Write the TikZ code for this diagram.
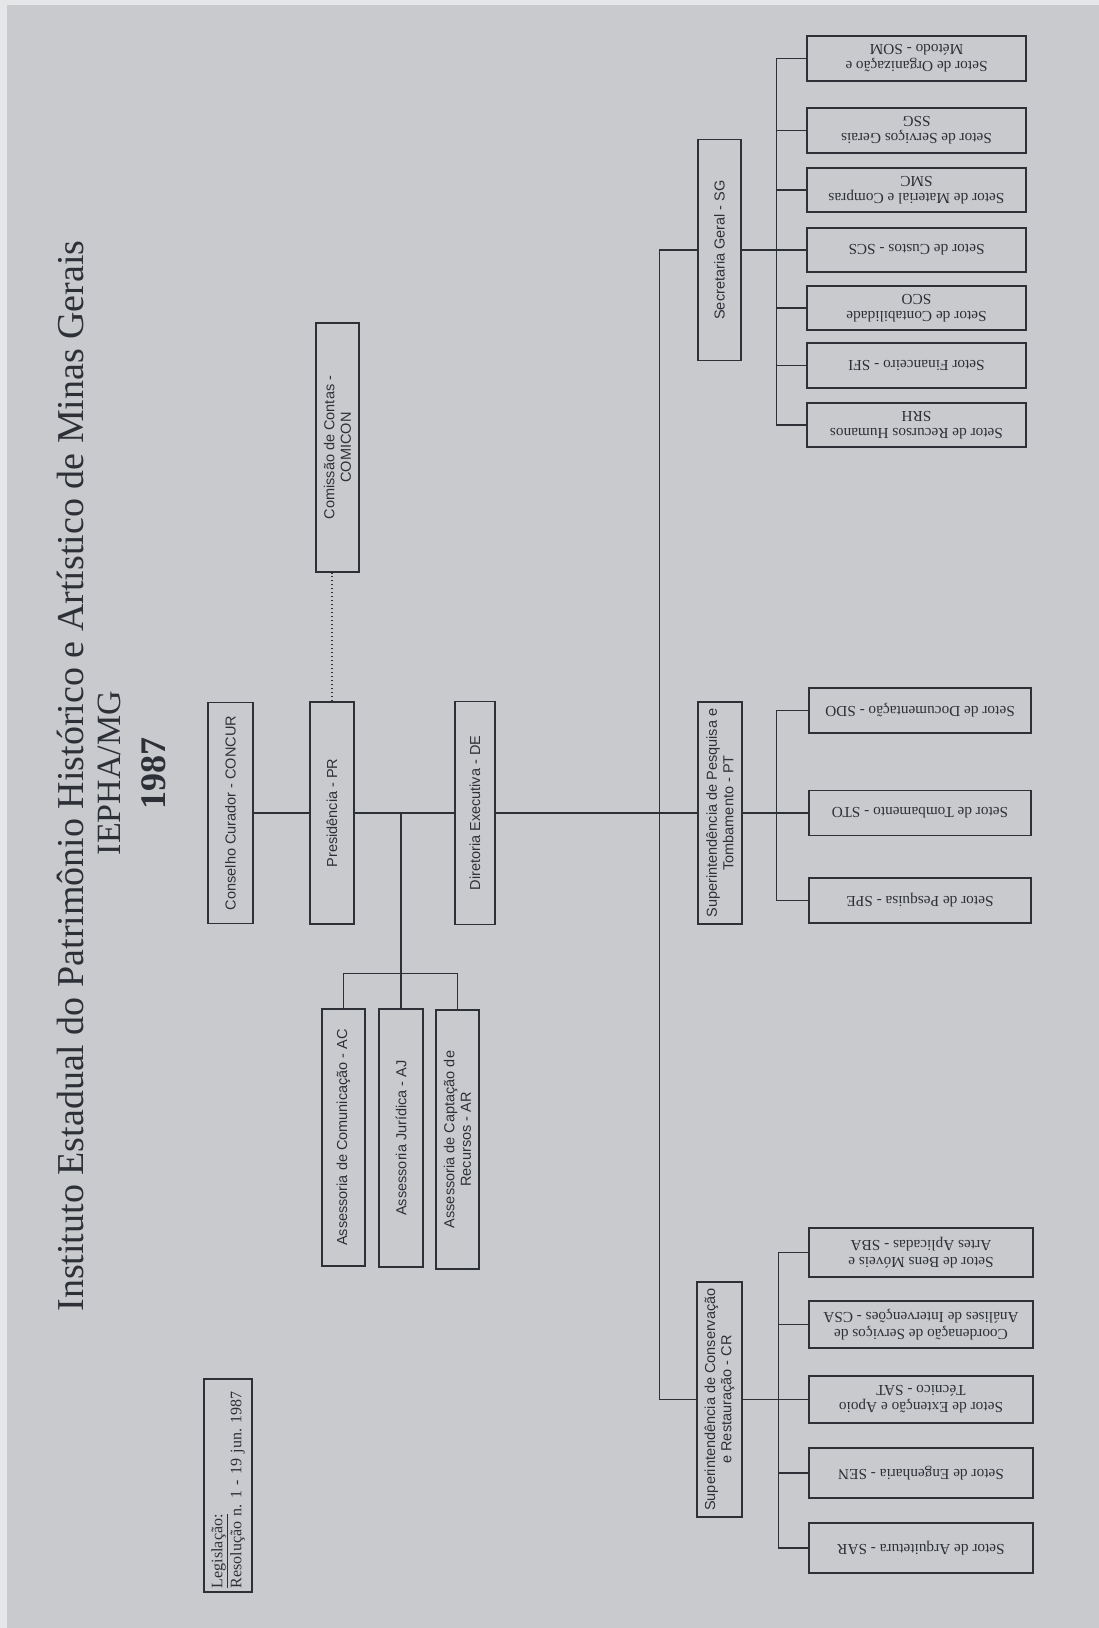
\documentclass[tikz,border=0pt]{standalone}
\usepackage{fontspec}
\setmainfont{Liberation Serif}
\newfontfamily\boxsans{Liberation Sans}
\definecolor{paper}{RGB}{200,202,206}
\definecolor{rim}{RGB}{228,230,232}
\definecolor{ink}{RGB}{46,48,56}

\begin{document}
\begin{tikzpicture}[x=1pt,y=-1pt,line width=1.5pt,color=ink,
    sidebox/.style={draw,rotate=90,align=center,inner sep=2pt,
                    font=\boxsans\fontsize{14.5}{16.5}\selectfont},
    flipbox/.style={draw,rotate=180,align=center,inner sep=2pt,
                    font=\fontsize{15.3}{17}\selectfont},
    dims/.style 2 args={minimum width=#1pt,minimum height=#2pt},
    dotline/.style={dash pattern=on 1.5pt off 2.5pt}]

  \useasboundingbox (0,0) rectangle (1099,1628);
  \fill[paper] (0,0) rectangle (1099,1628);
  \fill[rim] (0,0) rectangle (7,1628);
  \fill[rim] (0,0) rectangle (1099,5);

  \node[rotate=90,anchor=base,font=\fontsize{38}{40}\selectfont] (title) at (83,776)
       {Instituto Estadual do Patrimônio Histórico e Artístico de Minas Gerais};
  \node[rotate=90,anchor=base,font=\fontsize{34}{36}\selectfont] (sigla) at (120,773) {IEPHA/MG};
  \node[rotate=90,anchor=base,font=\bfseries\fontsize{36}{38}\selectfont] (ano) at (165,773) {1987};

  \node[sidebox,dims={205}{48},text width=205pt,align=left,inner sep=4pt,
        font=\fontsize{16}{19}\selectfont\frenchspacing] (leg) at (228,1485.5)
       {\underline{Legislação:}\\Resolução n. 1 - 19 jun. 1987};

  \node[sidebox,dims={221}{45}] (concur)  at (230.5,813) {Conselho Curador - CONCUR};
  \node[sidebox,dims={222}{44}] (pr)      at (332,813)   {Presidência - PR};
  \node[sidebox,dims={223}{40}] (de)      at (475,813)   {Diretoria Executiva - DE};
  \node[sidebox,dims={249}{43}] (comicon) at (337.5,447.5) {Comissão de Contas -\\COMICON};

  \node[sidebox,dims={257}{43}] (ac) at (343.5,1137.5) {Assessoria de Comunicação - AC};
  \node[sidebox,dims={258}{44}] (aj) at (401,1138)     {Assessoria Jurídica - AJ};
  \node[sidebox,dims={259}{43}] (ar) at (457.5,1139.5) {Assessoria de Captação de\\Recursos - AR};

  \node[sidebox,dims={221}{43}] (sg) at (719.5,250)   {Secretaria Geral - SG};
  \node[sidebox,dims={222}{44}] (pt) at (720,813)     {Superintendência de Pesquisa e\\Tombamento - PT};
  \node[sidebox,dims={235}{45}] (cr) at (719.5,1399.5) {Superintendência de Conservação\\e Restauração - CR};

  \node[flipbox,dims={219}{45}] (som) at (916.5,58.5)  {Setor de Organização e\\Método - SOM};
  \node[flipbox,dims={219}{45}] (ssg) at (916.5,130.5) {Setor de Serviços Gerais\\SSG};
  \node[flipbox,dims={219}{44}] (smc) at (916.5,190)   {Setor de Material e Compras\\SMC};
  \node[flipbox,dims={219}{44}] (scs) at (916.5,250)   {Setor de Custos - SCS};
  \node[flipbox,dims={219}{44}] (sco) at (916.5,308)   {Setor de Contabilidade\\SCO};
  \node[flipbox,dims={219}{45}] (sfi) at (916.5,365.5) {Setor Financeiro - SFI};
  \node[flipbox,dims={219}{44}] (srh) at (916.5,425)   {Setor de Recursos Humanos\\SRH};

  \node[flipbox,dims={222}{45}] (sdo) at (920,710.5) {Setor de Documentação - SDO};
  \node[flipbox,dims={222}{45}] (sto) at (920,813)   {Setor de Tombamento - STO};
  \node[flipbox,dims={222}{45}] (spe) at (920,900.5) {Setor de Pesquisa - SPE};

  \node[flipbox,dims={224}{49}] (sba) at (921,1252.5) {Setor de Bens Móveis e\\Artes Aplicadas - SBA};
  \node[flipbox,dims={224}{47}] (csa) at (921,1324.5) {Coordenação de Serviços de\\Análises de Intervenções - CSA};
  \node[flipbox,dims={224}{47}] (sat) at (921,1399.5) {Setor de Extenção e Apoio\\Técnico - SAT};
  \node[flipbox,dims={224}{50}] (sen) at (921,1473)   {Setor de Engenharia - SEN};
  \node[flipbox,dims={224}{50}] (sar) at (921,1548)   {Setor de Arquitetura - SAR};

  \draw (concur) -- (pr);
  \draw (pr) -- (de);
  \draw (de) -- (pt);
  \draw[dotline] (pr.east) -- (pr.east |- comicon.west);

  \draw (aj.east |- pr) -- (aj.east);
  \draw (ac.east) -- ++(0,-35) -| (ar.east);

  \draw (sg.north) -- ++(-38,0) |- (cr.north);

  \draw (sg.south) -- (scs.east);
  \foreach \c in {som,ssg,smc,scs,sco,sfi,srh}
    \draw (\c.east) -- ++(-30,0);
  \draw ([xshift=-30pt]som.east) -- ([xshift=-30pt]srh.east);

  \draw (pt.south) -- (sto.east);
  \foreach \c in {sdo,sto,spe}
    \draw (\c.east) -- ++(-32,0);
  \draw ([xshift=-32pt]sdo.east) -- ([xshift=-32pt]spe.east);

  \draw (cr.south) -- (sat.east);
  \foreach \c in {sba,csa,sat,sen,sar}
    \draw (\c.east) -- ++(-30,0);
  \draw ([xshift=-30pt]sba.east) -- ([xshift=-30pt]sar.east);
\end{tikzpicture}
\end{document}
